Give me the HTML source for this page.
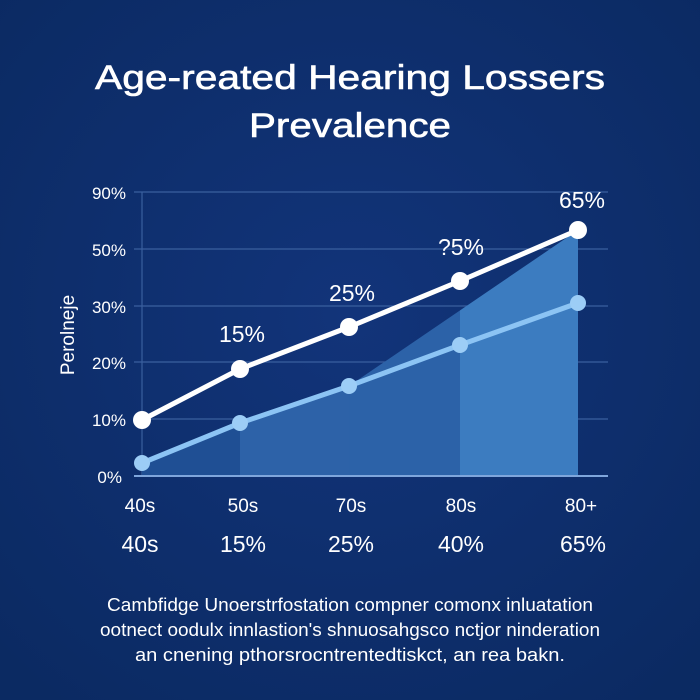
<!DOCTYPE html><html><head><style>
body{margin:0;width:700px;height:700px;background:#0d2d69;overflow:hidden}
svg{display:block}
text{font-family:"Liberation Sans",sans-serif;fill:#fff}
</style></head><body>
<svg width="700" height="700" viewBox="0 0 700 700">
<defs>
<radialGradient id="bg" cx="50%" cy="45%" r="70%"><stop offset="0" stop-color="#12347a"/><stop offset="1" stop-color="#0b2a62"/></radialGradient>
<clipPath id="fc"><polygon points="142,476 142,463 240,423 349,386 578,230 578,476"/></clipPath>
</defs>
<rect width="700" height="700" fill="url(#bg)"/>
<text x="350" y="89" font-size="34" text-anchor="middle" textLength="510" lengthAdjust="spacingAndGlyphs" style="font-weight:500;stroke:#fff;stroke-width:0.6">Age-reated Hearing Lossers</text>
<text x="350" y="137" font-size="34" text-anchor="middle" textLength="202" lengthAdjust="spacingAndGlyphs" style="stroke:#fff;stroke-width:0.6">Prevalence</text>
<g stroke="#3a5f9e" stroke-width="1.2">
<line x1="134" y1="192" x2="608" y2="192"/><line x1="134" y1="249" x2="608" y2="249"/>
<line x1="134" y1="306" x2="608" y2="306"/><line x1="134" y1="362" x2="608" y2="362"/>
<line x1="134" y1="419" x2="608" y2="419"/><line x1="142" y1="192" x2="142" y2="476"/>
</g>
<g clip-path="url(#fc)">
<rect x="142" y="200" width="98" height="280" fill="#1f4f94"/>
<rect x="240" y="200" width="109" height="280" fill="#2d62a8"/>
<rect x="349" y="200" width="111" height="280" fill="#2c62a8"/>
<rect x="460" y="200" width="118" height="280" fill="#3c7cc0"/>
</g>
<line x1="134" y1="476" x2="608" y2="476" stroke="#7fa6dc" stroke-width="2"/>
<polyline points="142,463 240,423 349,386 460,345 578,303" fill="none" stroke="#8cc4f4" stroke-width="5"/>
<g fill="#9ccdf6"><circle cx="142" cy="463" r="8"/><circle cx="240" cy="423" r="8"/><circle cx="349" cy="386" r="8"/><circle cx="460" cy="345" r="8"/><circle cx="578" cy="303" r="8"/></g>
<polyline points="142,420 240,369 349,327 460,281 578,230" fill="none" stroke="#fff" stroke-width="5"/>
<g fill="#fff"><circle cx="142" cy="420" r="9"/><circle cx="240" cy="369" r="9"/><circle cx="349" cy="327" r="9"/><circle cx="460" cy="281" r="9"/><circle cx="578" cy="230" r="9"/></g>
<g font-size="17" text-anchor="end">
<text x="126" y="199">90%</text><text x="126" y="256">50%</text><text x="126" y="313">30%</text><text x="126" y="369">20%</text><text x="126" y="426">10%</text><text x="122" y="483">0%</text>
</g>
<text transform="translate(74,335) rotate(-90)" font-size="19" text-anchor="middle">Perolneje</text>
<g font-size="23" text-anchor="middle">
<text x="242" y="342">15%</text><text x="352" y="301">25%</text><text x="461" y="255">?5%</text><text x="582" y="208">65%</text>
</g>
<g font-size="19" text-anchor="middle">
<text x="140" y="512">40s</text><text x="243" y="512">50s</text><text x="351" y="512">70s</text><text x="461" y="512">80s</text><text x="581" y="512">80+</text>
</g>
<g font-size="23" text-anchor="middle">
<text x="140" y="552">40s</text><text x="243" y="552">15%</text><text x="351" y="552">25%</text><text x="461" y="552">40%</text><text x="583" y="552">65%</text>
</g>
<g font-size="18" text-anchor="middle">
<text x="350" y="611" textLength="486" lengthAdjust="spacingAndGlyphs">Cambfidge Unoerstrfostation compner comonx inluatation</text>
<text x="350" y="636" textLength="500" lengthAdjust="spacingAndGlyphs">ootnect oodulx innlastion's shnuosahgsco nctjor ninderation</text>
<text x="350" y="661" textLength="430" lengthAdjust="spacingAndGlyphs">an cnening pthorsrocntrentedtiskct, an rea bakn.</text>
</g>
</svg></body></html>
